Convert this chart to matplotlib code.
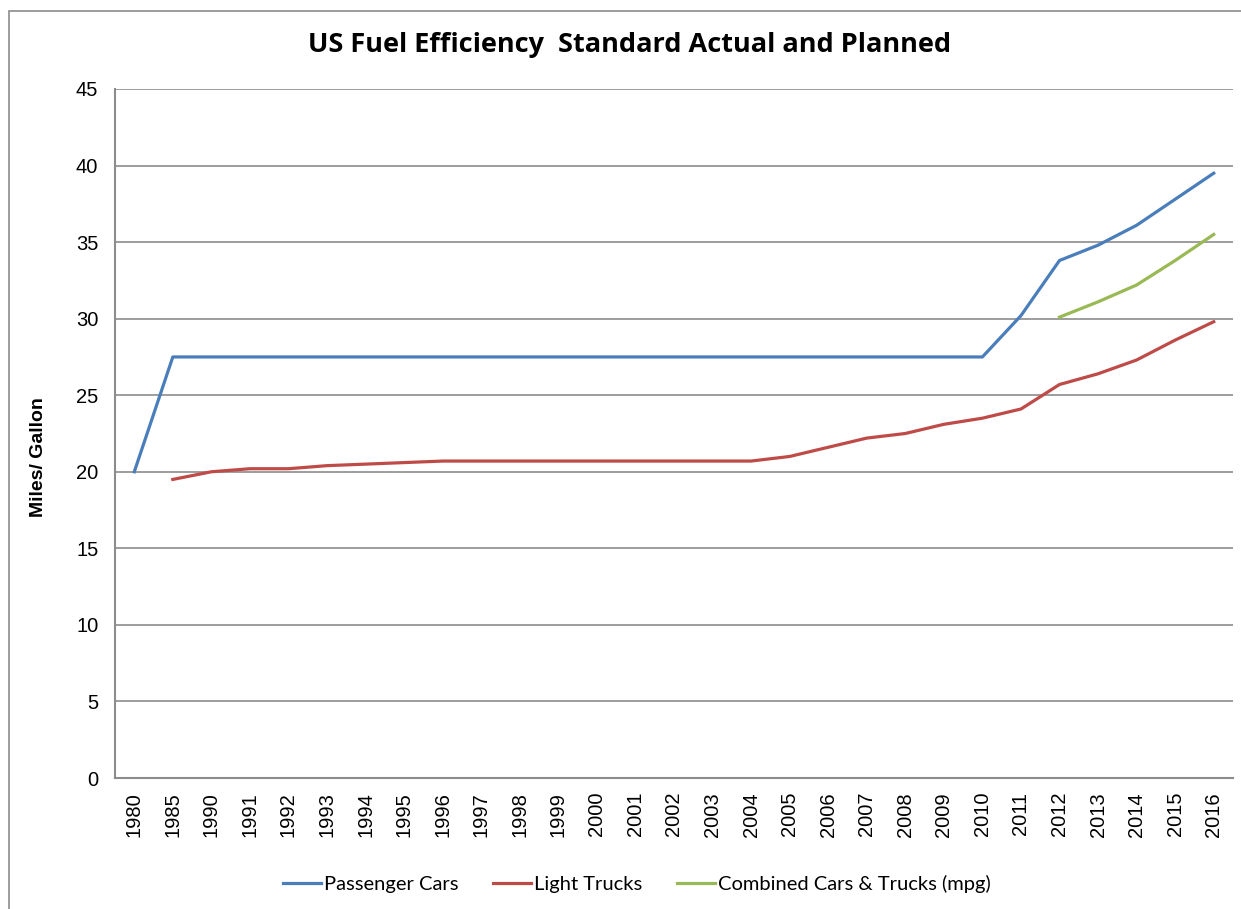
import matplotlib
matplotlib.use('Agg')
import matplotlib.pyplot as plt
from matplotlib.patches import Rectangle
import numpy as np

years = ['1980', '1985', '1990', '1991', '1992', '1993', '1994', '1995', '1996',
         '1997', '1998', '1999', '2000', '2001', '2002', '2003', '2004', '2005',
         '2006', '2007', '2008', '2009', '2010', '2011', '2012', '2013', '2014',
         '2015', '2016']

passenger_cars = [20.0] + [27.5] * 22 + [30.2, 33.8, 34.8, 36.1, 37.8, 39.5]

light_trucks = [np.nan, 19.5, 20.0, 20.2, 20.2, 20.4, 20.5, 20.6, 20.7,
                20.7, 20.7, 20.7, 20.7, 20.7, 20.7, 20.7, 20.7, 21.0,
                21.6, 22.2, 22.5, 23.1, 23.5, 24.1, 25.7, 26.4, 27.3,
                28.6, 29.8]

combined = [np.nan] * 24 + [30.1, 31.1, 32.2, 33.8, 35.5]

x = np.arange(len(years))

fig = plt.figure(figsize=(12.41, 9.09), dpi=100)
ax = fig.add_axes([115 / 1241, 131 / 909, 1118 / 1241, 689 / 909])

# outer chart frame (runs off the right/bottom edge like the source)
fig.patches.append(Rectangle((9 / 1241, -0.05), 1.1, 0.05 + 1 - 11 / 909,
                             transform=fig.transFigure, fill=False,
                             edgecolor='#8c8c8c', linewidth=1.2))

ax.plot(x, passenger_cars, color='#4a7ebb', lw=2.3, label='Passenger Cars')
ax.plot(x, light_trucks, color='#be4b48', lw=2.3, label='Light Trucks')
ax.plot(x, combined, color='#98b954', lw=2.3, label='Combined Cars & Trucks (mpg)')

ax.set_xlim(-0.5, len(years) - 0.5)
ax.set_ylim(0, 45)
ax.set_yticks(range(0, 46, 5))
ax.set_xticks(x)
ax.set_xticklabels(years, rotation=90, family='Liberation Sans', fontsize=14.5)
for t in ax.get_yticklabels():
    t.set_family('Liberation Sans')
    t.set_fontsize(14.5)
ax.tick_params(length=0, pad=10)
ax.tick_params(axis='y', pad=12)

ax.grid(axis='y', color='#8c8c8c', lw=1.2)
ax.set_axisbelow(True)
for s in ['top', 'right']:
    ax.spines[s].set_visible(False)
for s in ['left', 'bottom']:
    ax.spines[s].set_color('#8c8c8c')
    ax.spines[s].set_linewidth(1.5)

ax.set_ylabel('Miles/ Gallon', family='Liberation Sans', fontweight='bold',
              fontsize=14)
ax.yaxis.set_label_coords(-0.061, 0.466)

fig.text(0.507, 0.95, 'US Fuel Efficiency  Standard Actual and Planned',
         ha='center', va='center', family='Open Sans', fontweight='bold',
         fontsize=19.5)

fig.legend(loc='center', bbox_to_anchor=(0.513, 0.027), ncol=3, frameon=False,
           prop={'family': 'Lato', 'size': 14.5}, handlelength=1.9,
           columnspacing=1.7, handletextpad=0.15)

plt.savefig('out.png', dpi=100)
plt.close()
